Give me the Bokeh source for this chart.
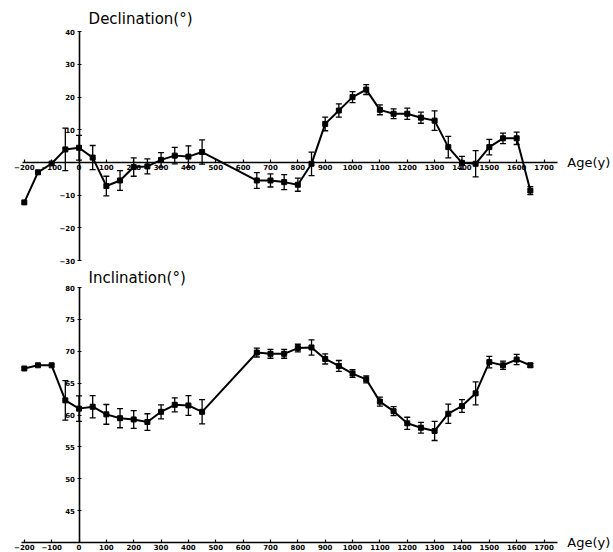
from bokeh.plotting import figure
from bokeh.models import ColumnDataSource, Whisker, TeeHead, FixedTicker, Label
from bokeh.layouts import column
from bokeh.embed import file_html
from bokeh.resources import INLINE

years = [-200, -150, -100, -50, 0, 50, 100, 150, 200, 250, 300, 350, 400, 450,
         650, 700, 750, 800, 850, 900, 950, 1000, 1050, 1100, 1150, 1200, 1250,
         1300, 1350, 1400, 1450, 1500, 1550, 1600, 1650]

decl = [-12.2, -3.0, -0.3, 4.0, 4.5, 1.5, -7.2, -5.5, -1.4, -1.2, 0.8, 2.1, 1.8, 3.2,
        -5.5, -5.5, -6.0, -6.8, -0.4, 11.8, 15.9, 20.0, 22.3, 16.1, 14.9, 14.9, 13.7,
        12.8, 4.7, -0.1, -0.4, 4.7, 7.4, 7.4, -8.6]
decl_err = [0, 0, 0, 6.5, 3.8, 3.7, 3.0, 3.0, 2.8, 2.3, 2.2, 2.5, 3.3, 3.7,
            2.4, 2.0, 2.3, 2.0, 3.6, 2.1, 2.0, 1.7, 1.5, 1.5, 1.5, 1.7, 1.7,
            3.0, 3.3, 2.0, 4.0, 2.4, 1.6, 1.9, 1.2]

incl = [67.3, 67.8, 67.8, 62.3, 61.0, 61.3, 60.1, 59.5, 59.3, 58.9, 60.5, 61.6, 61.5, 60.5,
        69.8, 69.6, 69.6, 70.5, 70.6, 68.8, 67.7, 66.5, 65.6, 62.1, 60.6, 58.7, 58.0,
        57.5, 60.2, 61.4, 63.4, 68.3, 67.8, 68.7, 67.8]
incl_err = [0, 0, 0, 3.1, 2.0, 1.75, 1.55, 1.5, 1.4, 1.3, 1.1, 1.1, 1.55, 1.9,
            0.7, 0.7, 0.7, 0.6, 1.2, 0.8, 0.85, 0.6, 0.55, 0.7, 0.7, 0.95, 0.85,
            1.5, 1.5, 1.0, 1.8, 0.9, 0.65, 0.8, 0.3]

x_ticks = list(range(-200, 1800, 100))
decl_ticks = [-30, -20, -10, 10, 20, 30, 40]
incl_ticks = [45, 50, 55, 60, 65, 70, 75, 80]

FONT = "DejaVu Sans"
X_RANGE = (-287, 1954)


def make_panel(vals, errs, height, y_range, x_loc, x_bounds, y_bounds, y_ticks, title, title_y):
    p = figure(width=613, height=height, x_range=X_RANGE, y_range=y_range,
               output_backend="svg", toolbar_location=None, min_border=0)
    p.grid.visible = False
    p.outline_line_color = None
    p.background_fill_color = "white"
    p.border_fill_color = "white"

    xa = p.xaxis[0]
    xa.fixed_location = x_loc
    xa.bounds = x_bounds
    xa.ticker = FixedTicker(ticks=x_ticks)
    xa.axis_line_width = 1.6
    xa.major_tick_line_width = 1.2
    xa.major_tick_in = 3
    xa.major_tick_out = 0
    xa.minor_tick_line_color = None
    xa.major_label_standoff = 2
    xa.major_label_text_font = FONT
    xa.major_label_text_font_style = "bold"
    xa.major_label_text_font_size = "7px"
    xa.major_label_text_color = "black"

    ya = p.yaxis[0]
    ya.fixed_location = 0
    ya.bounds = y_bounds
    ya.ticker = FixedTicker(ticks=y_ticks)
    ya.axis_line_width = 1.6
    ya.major_tick_line_width = 1.2
    ya.major_tick_in = 2
    ya.major_tick_out = 2
    ya.minor_tick_line_color = None
    ya.major_label_standoff = 2
    ya.major_label_text_font = FONT
    ya.major_label_text_font_style = "bold"
    ya.major_label_text_font_size = "7px"
    ya.major_label_text_color = "black"

    src = ColumnDataSource(dict(x=years, y=vals))
    p.line("x", "y", source=src, line_color="black", line_width=2)
    p.scatter("x", "y", source=src, marker="square", size=5,
              fill_color="black", line_color="black")

    ex = [x for x, e in zip(years, errs) if e > 0]
    ey = [v for v, e in zip(vals, errs) if e > 0]
    ee = [e for e in errs if e > 0]
    esrc = ColumnDataSource(dict(x=ex, upper=[v + e for v, e in zip(ey, ee)],
                                 lower=[v - e for v, e in zip(ey, ee)]))
    w = Whisker(source=esrc, base="x", upper="upper", lower="lower",
                line_color="black", line_width=1.3, level="glyph",
                upper_head=TeeHead(size=6, line_color="black", line_width=1.3),
                lower_head=TeeHead(size=6, line_color="black", line_width=1.3))
    p.add_layout(w)

    p.add_layout(Label(x=35, y=title_y, text=title, text_font=FONT,
                       text_font_size="15px", text_baseline="middle",
                       text_color="black"))
    p.add_layout(Label(x=1785, y=x_loc, text="Age(y)", text_font=FONT,
                       text_font_size="13px", text_baseline="middle",
                       text_color="black"))
    return p


p1 = make_panel(decl, decl_err, 270, (-33.03, 49.54), 0, (-206, 1749), (-30, 40),
                decl_ticks, "Declination(°)", 44.0)
p2 = make_panel(incl, incl_err, 282, (38.43, 82.67), 40, (-210, 1749), (40, 80),
                incl_ticks, "Inclination(°)", 81.57)

layout = column(p1, p2)
open("out.html", "w").write(file_html(layout, INLINE))
